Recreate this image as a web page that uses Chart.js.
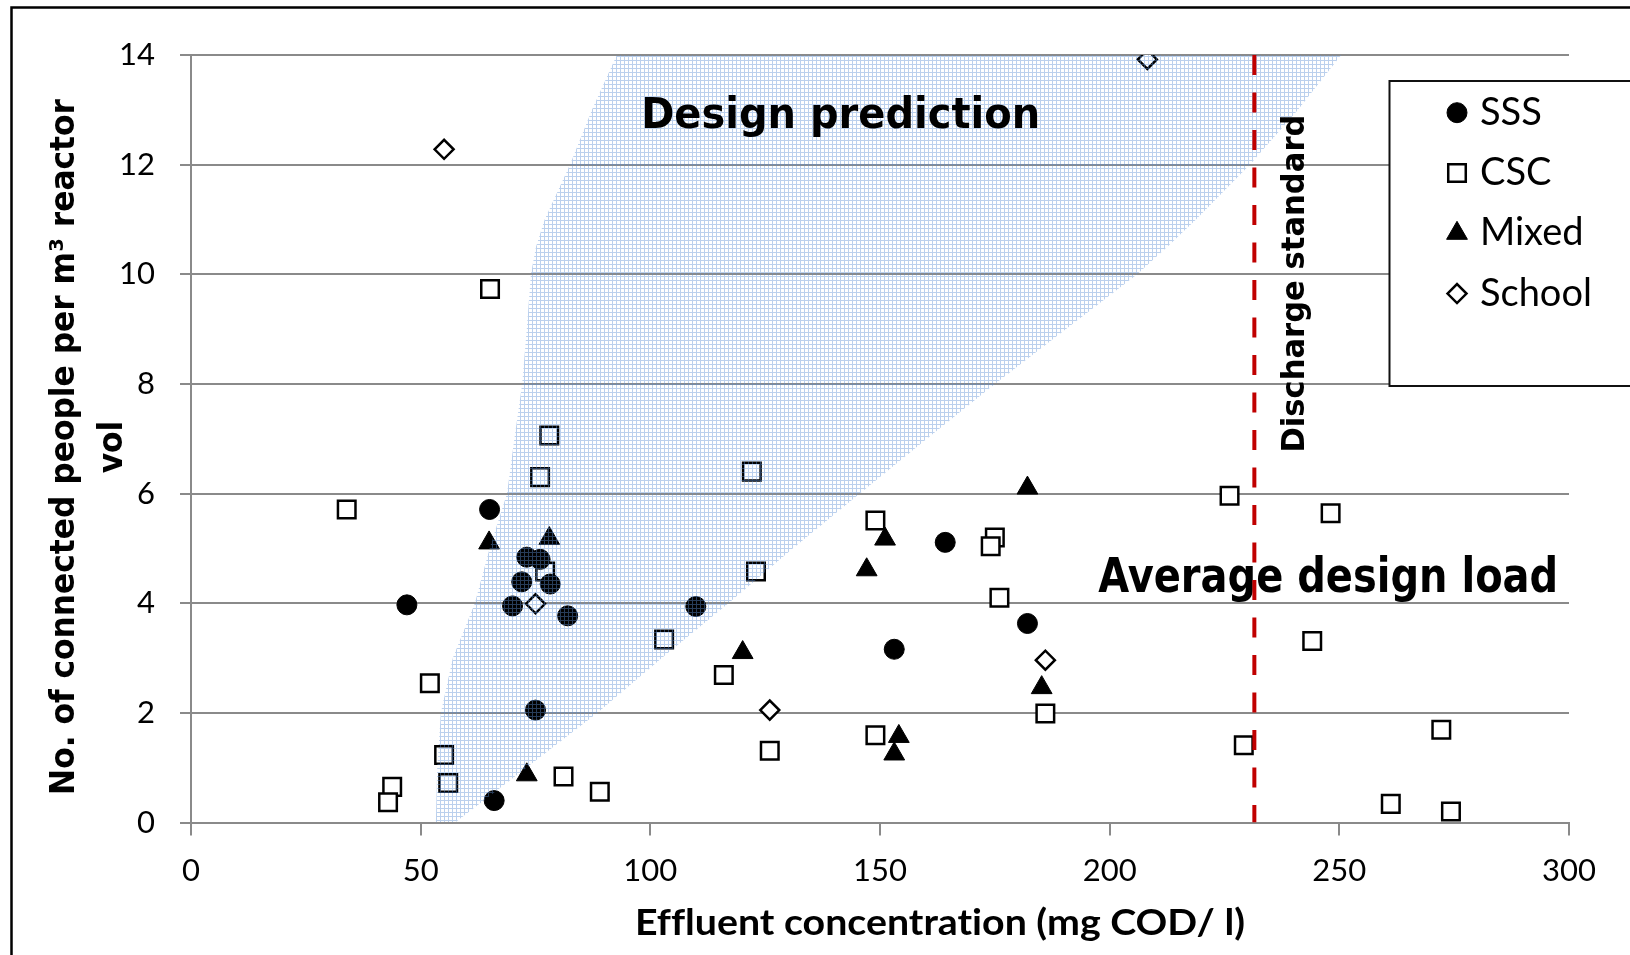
<!DOCTYPE html>
<html>
<head>
<meta charset="utf-8">
<script src="https://cdn.jsdelivr.net/npm/chart.js@4.4.1/dist/chart.umd.min.js"></script>
<style>
  html, body { margin: 0; padding: 0; background: #ffffff; }
  canvas { display: block; }
</style>
</head>
<body>
<canvas id="chart" width="1630" height="955"></canvas>
<script>
// Effluent COD versus loading (connected people per m³ reactor volume), per system type

const sssCod  = [65.0, 73.1, 76.0, 72.0, 78.2, 70.0, 82.0, 75.0, 66.0, 47.0, 109.9, 164.2, 153.1, 182.1];
const sssLoad = [5.71, 4.84, 4.80, 4.39, 4.35, 3.95, 3.77, 2.05, 0.40, 3.97, 3.94, 5.11, 3.16, 3.63];

const cscCod  = [65.1, 78.0, 76.0, 122.1, 33.9, 77.1, 123.0, 103.0, 52.0, 116.0, 126.0, 55.1, 43.8, 42.9, 56.0,
                 81.1, 89.0, 149.0, 175.0, 174.1, 176.0, 186.0, 149.0, 226.1, 248.1, 244.1, 229.2, 272.2, 261.2, 274.3];
const cscLoad = [9.73, 7.06, 6.30, 6.40, 5.71, 4.58, 4.58, 3.34, 2.54, 2.69, 1.31, 1.23, 0.65, 0.37, 0.72,
                 0.84, 0.56, 5.51, 5.20, 5.04, 4.10, 1.99, 1.59, 5.96, 5.64, 3.31, 1.41, 1.69, 0.34, 0.20];

const mixedCod  = [64.9, 78.0, 120.1, 73.1, 182.1, 151.1, 147.1, 185.2, 154.1, 153.1];
const mixedLoad = [5.10, 5.18, 3.10, 0.87, 6.10, 5.17, 4.61, 2.46, 1.57, 1.25];

const schoolCod  = [55.1, 208.2, 75.0, 126.0, 186.0];
const schoolLoad = [12.28, 13.92, 3.99, 2.05, 2.96];

// Design prediction band: left and right COD edges at each loading level
const bandLoad  = [0, 1, 2, 3, 4, 5, 6, 7, 8, 9, 10, 10.5, 11, 12, 13, 14];
const bandLeft  = [53.3, 53.6, 54.4, 57.0, 61.8, 65.0, 68.8, 70.4, 72.1, 73.1, 74.0, 75.1, 77.0, 82.5, 87.3, 92.7];
const bandRight = [57.5, 73.0, 88.5, 102.5, 117.0, 131.0, 145.6, 160.2, 175.0, 190.5, 206.0, 212.5, 218.8, 230.5, 241.0, 250.4];

// Discharge standard (mg COD/l)
const dischargeStandard = 231.5;

const xTicks = [0, 50, 100, 150, 200, 250, 300];
const yTicks = [0, 2, 4, 6, 8, 10, 12, 14];

const seriesNames = ['SSS', 'CSC', 'Mixed', 'School'];
const xTitle = 'Effluent concentration (mg COD/ l)';
const yTitle = ['No. of connected people per m\u00B3 reactor', 'vol'];
const notes = ['Design prediction', 'Average design load', 'Discharge standard'];

const zip = (xs, ys) => xs.map((x, i) => ({ x: x, y: ys[i] }));

const canvas = document.getElementById('chart');
const ctx0 = canvas.getContext('2d');

// light blue "small grid" fill, transparent between the lines
function gridFill() {
  const tile = document.createElement('canvas');
  tile.width = 4; tile.height = 4;
  const g = tile.getContext('2d');
  g.fillStyle = 'rgba(92,142,212,0.42)';
  g.fillRect(0, 0, 4, 1);
  g.fillRect(0, 1, 1, 3);
  return ctx0.createPattern(tile, 'repeat');
}

const GRID = '#8a8a8a';
const TICK_FONT = { family: 'Lato', size: 31 };

// heavy condensed annotation text, stretched to a given width
function noteText(ctx, text, x, y, cap, width, vertical) {
  const size = cap / 0.729;
  ctx.save();
  ctx.font = 'bold ' + size + 'px "DejaVu Sans"';
  const w = ctx.measureText(text).width;
  ctx.translate(x, y);
  if (vertical) ctx.rotate(-Math.PI / 2);
  ctx.scale(width / w, 1);
  ctx.fillStyle = '#000';
  ctx.textBaseline = 'alphabetic';
  ctx.textAlign = vertical ? 'center' : 'left';
  ctx.fillText(text, 0, 0);
  ctx.restore();
}

const notesBelow = {
  id: 'notesBelow',
  beforeDatasetsDraw(chart) {
    const { ctx, scales: { x, y } } = chart;
    noteText(ctx, notes[1], x.getPixelForValue(197.5), y.getPixelForValue(4.21), 35, 460, false);
  }
};

const notesAbove = {
  id: 'notesAbove',
  afterDatasetsDraw(chart) {
    const { ctx, scales: { x, y } } = chart;
    noteText(ctx, notes[0], x.getPixelForValue(98.0), y.getPixelForValue(12.66), 31.5, 399, false);
    noteText(ctx, notes[2], x.getPixelForValue(242.3), y.getPixelForValue(9.83), 23, 338, true);
  }
};

const axisTitles = {
  id: 'axisTitles',
  afterDraw(chart) {
    const { ctx } = chart;
    ctx.save();
    ctx.fillStyle = '#000';
    ctx.textRendering = 'optimizeSpeed';
    ctx.textAlign = 'center';
    ctx.textBaseline = 'alphabetic';
    // x title
    ctx.font = 'bold 37px Lato';
    const wx = ctx.measureText(xTitle).width;
    ctx.save();
    ctx.translate(940, 935);
    ctx.scale(610 / wx, 1);
    ctx.fillText(xTitle, 0, 0);
    ctx.restore();
    // y title, two lines
    ctx.font = 'bold 34px "DejaVu Sans"';
    const wy = ctx.measureText(yTitle[0]).width;
    ctx.translate(73.5, 447);
    ctx.rotate(-Math.PI / 2);
    ctx.scale(696 / wy, 1);
    ctx.fillText(yTitle[0], 0, 0);
    ctx.fillText(yTitle[1], 0, 48.4);
    ctx.restore();
  }
};

const legendBox = {
  id: 'legendBox',
  afterDraw(chart) {
    const { ctx } = chart;
    ctx.save();
    ctx.fillStyle = '#ffffff';
    ctx.fillRect(1389.5, 81, 400, 305);
    ctx.strokeStyle = '#111';
    ctx.lineWidth = 2;
    ctx.strokeRect(1389.5, 81, 400, 305);
    for (let i = 0; i < 4; i++) {
      const ds = chart.data.datasets[i];
      const cy = 112.7 + i * 60.3;
      ctx.fillStyle = ds.backgroundColor;
      ctx.strokeStyle = ds.borderColor;
      ctx.lineWidth = ds.borderWidth;
      Chart.helpers.drawPoint(ctx, {
        pointStyle: ds.pointStyle, radius: ds.pointRadius, borderWidth: ds.borderWidth, rotation: 0
      }, 1457, cy);
      ctx.fillStyle = '#000';
      ctx.font = '38px Lato';
      ctx.textAlign = 'left';
      ctx.textBaseline = 'alphabetic';
      ctx.fillText(ds.label, 1480, cy + 12);
    }
    ctx.restore();
  }
};

const frame = {
  id: 'frame',
  afterDraw(chart) {
    const { ctx } = chart;
    ctx.save();
    ctx.strokeStyle = '#000';
    ctx.lineWidth = 2.5;
    ctx.strokeRect(11.5, 7.5, 2000, 2000);
    ctx.restore();
  }
};

new Chart(canvas, {
  type: 'scatter',
  data: {
    datasets: [
      {
        label: seriesNames[0], data: zip(sssCod, sssLoad), order: 2,
        pointStyle: 'circle', pointRadius: 10, borderWidth: 1,
        backgroundColor: '#000', borderColor: '#000'
      },
      {
        label: seriesNames[1], data: zip(cscCod, cscLoad), order: 2,
        pointStyle: 'rect', pointRadius: 12.4, borderWidth: 2.5,
        backgroundColor: '#fff', borderColor: '#000'
      },
      {
        label: seriesNames[2], data: zip(mixedCod, mixedLoad), order: 2,
        pointStyle: 'triangle', pointRadius: 12, borderWidth: 1,
        backgroundColor: '#000', borderColor: '#000'
      },
      {
        label: seriesNames[3], data: zip(schoolCod, schoolLoad), order: 2,
        pointStyle: 'rectRot', pointRadius: 9.5, borderWidth: 2.5,
        backgroundColor: '#fff', borderColor: '#000'
      },
      {
        label: 'band-left', type: 'line', indexAxis: 'y', order: 1,
        data: zip(bandLeft, bandLoad),
        borderColor: 'rgba(0,0,0,0)', borderWidth: 1, pointRadius: 0, fill: false, tension: 0
      },
      {
        label: 'band-right', type: 'line', indexAxis: 'y', order: 1,
        data: zip(bandRight, bandLoad),
        borderColor: 'rgba(0,0,0,0)', borderWidth: 1, pointRadius: 0, tension: 0,
        fill: '-1', backgroundColor: gridFill()
      },
      {
        label: 'discharge', showLine: true, order: 0,
        data: [{ x: dischargeStandard, y: 14 }, { x: dischargeStandard, y: 0 }],
        borderColor: '#c00000', borderWidth: 4, borderDash: [20, 17.5], pointRadius: 0
      }
    ]
  },
  options: {
    responsive: false,
    animation: false,
    devicePixelRatio: 1,
    layout: { padding: { left: 0, top: 55, right: 61, bottom: 0 } },
    plugins: { legend: { display: false }, tooltip: { enabled: false } },
    scales: {
      x: {
        type: 'linear', min: 0, max: 300,
        afterBuildTicks: s => { s.ticks = xTicks.map(v => ({ value: v })); },
        afterFit: s => { s.height = 132.5; },
        grid: { drawOnChartArea: false, drawTicks: true, tickLength: 13, color: GRID, lineWidth: 2 },
        border: { display: true, color: GRID, width: 2 },
        ticks: { font: TICK_FONT, color: '#000', padding: 17, maxRotation: 0 }
      },
      y: {
        type: 'linear', min: 0, max: 14,
        afterBuildTicks: s => { s.ticks = yTicks.map(v => ({ value: v })); },
        afterFit: s => { s.width = 191; },
        grid: { drawOnChartArea: true, drawTicks: true, tickLength: 11, color: GRID, lineWidth: 2 },
        border: { display: true, color: GRID, width: 2 },
        ticks: { font: TICK_FONT, color: '#000', padding: 25 }
      }
    }
  },
  plugins: [notesBelow, notesAbove, axisTitles, legendBox, frame]
});
</script>
</body>
</html>
